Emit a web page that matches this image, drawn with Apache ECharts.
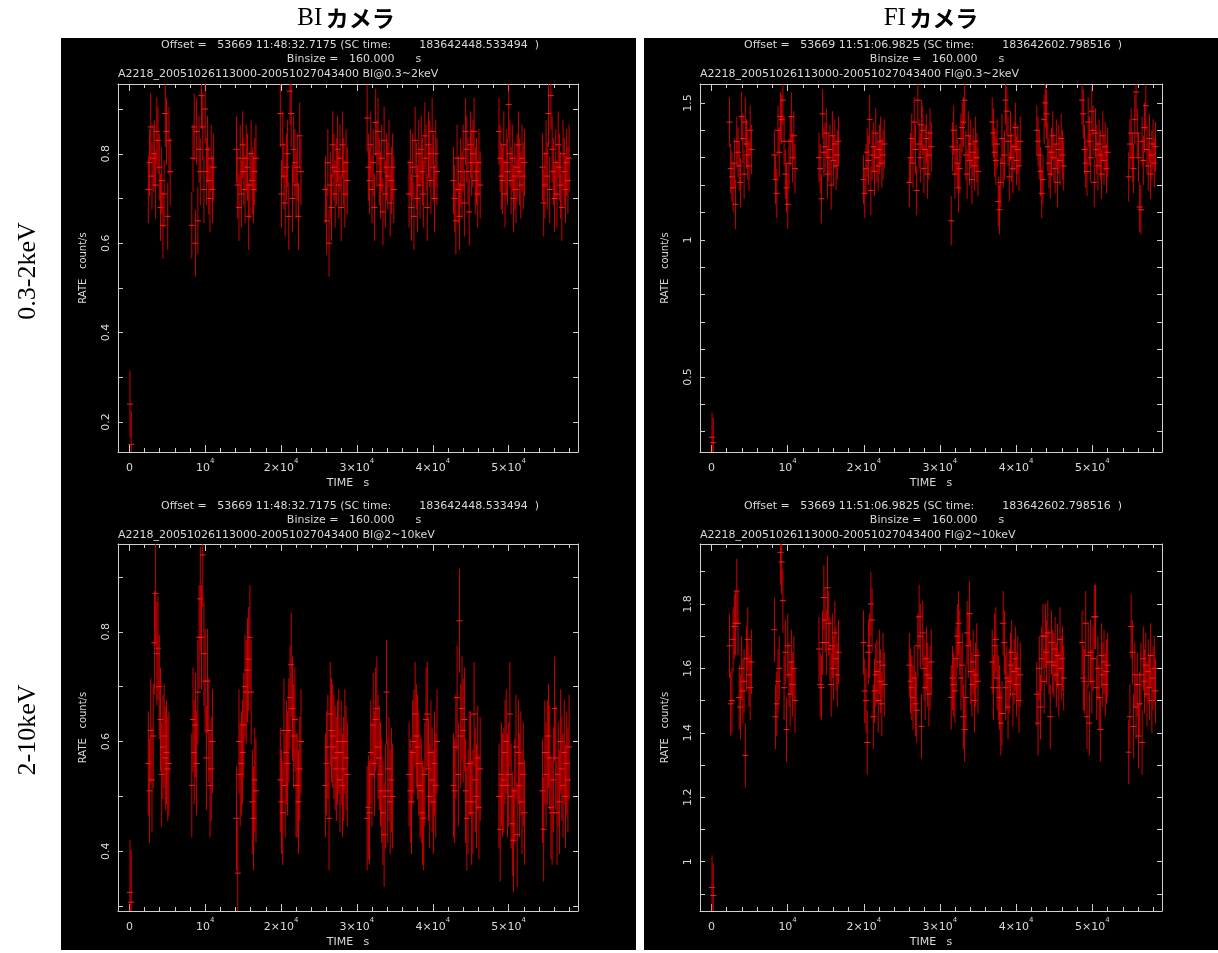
<!DOCTYPE html>
<html>
<head>
<meta charset="utf-8">
<script src="https://cdn.jsdelivr.net/npm/echarts@6/dist/echarts.min.js"></script>
<style>html,body{margin:0;padding:0;background:#fff;}#c{width:1218px;height:953px;}</style>
</head>
<body>
<div id="c"></div>
<script>
// ---------------- DATA ----------------
const BINSIZE = 160;
const BI_STARTS = [2420, 8150, 14050, 19820, 25770, 31270, 36800, 42650, 48650, 54380];
const FI_STARTS = [2290, 8180, 14040, 19890, 25900, 31400, 36780, 42640, 48580, 54700];
const FIRST_TIMES = [80, 240];

const BI_SOFT_FIRST = [0.24, 0.15];
const BI_SOFT = [
  [0.72,0.78,0.86,0.75,0.79,0.80,0.73,0.85,0.83,0.77,0.68,0.74,0.64,0.71,0.89,0.85,0.66,0.83,0.76],
  [0.64,0.79,0.86,0.60,0.85,0.65,0.81,0.76,0.93,0.86,0.72,0.90,0.76,0.81,0.74,0.70,0.79,0.72,0.77],
  [0.81,0.73,0.68,0.79,0.71,0.82,0.76,0.72,0.79,0.77,0.66,0.73,0.80,0.74,0.72,0.76,0.79],
  [0.89,0.71,0.82,0.75,0.69,0.77,0.80,0.66,0.94,0.89,0.70,0.81,0.78,0.73,0.77,0.66,0.84,0.76],
  [0.72,0.65,0.78,0.60,0.73,0.68,0.82,0.77,0.71,0.76,0.81,0.73,0.79,0.68,0.82,0.76,0.71,0.78,0.74],
  [0.88,0.77,0.74,0.82,0.72,0.78,0.68,0.87,0.80,0.85,0.76,0.73,0.79,0.67,0.83,0.71,0.77,0.75,0.80,0.69,0.74,0.77,0.72],
  [0.71,0.78,0.68,0.77,0.66,0.83,0.75,0.70,0.80,0.73,0.81,0.76,0.71,0.84,0.79,0.68,0.82,0.80,0.74,0.85,0.77,0.70,0.80,0.76],
  [0.74,0.70,0.65,0.79,0.72,0.66,0.76,0.73,0.79,0.69,0.85,0.81,0.76,0.67,0.82,0.78,0.80,0.85,0.74,0.76,0.71,0.78,0.73],
  [0.85,0.79,0.75,0.74,0.82,0.71,0.78,0.76,0.91,0.80,0.74,0.79,0.70,0.75,0.72,0.77,0.82,0.76,0.73,0.79,0.75,0.78],
  [0.77,0.69,0.73,0.80,0.75,0.89,0.72,0.93,0.81,0.76,0.70,0.78,0.71,0.82,0.77,0.73,0.68,0.80,0.76,0.72,0.78,0.74,0.79]
];
const BI_HARD_FIRST = [0.325, 0.307];
const BI_HARD = [
  [0.56,0.51,0.62,0.53,0.61,0.78,0.87,0.76,0.77,0.70,0.64,0.54,0.59,0.61,0.57,0.58,0.55,0.56],
  [0.52,0.64,0.58,0.63,0.56,0.69,0.79,0.86,0.79,0.94,0.76,0.71,0.57,0.71,0.62,0.52,0.55,0.60],
  [0.46,0.36,0.60,0.54,0.56,0.58,0.63,0.70,0.69,0.73,0.75,0.79,0.69,0.49,0.46,0.53,0.51],
  [0.53,0.49,0.47,0.62,0.52,0.58,0.56,0.62,0.68,0.74,0.66,0.61,0.64,0.52,0.52,0.49,0.55,0.60],
  [0.52,0.56,0.59,0.46,0.65,0.62,0.61,0.59,0.57,0.55,0.58,0.60,0.53,0.58,0.52,0.55,0.60,0.57,0.54],
  [0.46,0.48,0.47,0.58,0.54,0.63,0.56,0.64,0.66,0.59,0.57,0.54,0.51,0.47,0.43,0.50,0.69,0.51,0.55,0.49,0.53,0.50],
  [0.54,0.51,0.49,0.58,0.60,0.65,0.61,0.59,0.56,0.52,0.51,0.47,0.46,0.54,0.64,0.65,0.55,0.50,0.58,0.53,0.49,0.56,0.52,0.60],
  [0.52,0.51,0.59,0.68,0.54,0.82,0.61,0.66,0.62,0.64,0.51,0.46,0.49,0.56,0.56,0.47,0.49,0.65,0.53,0.50,0.57,0.48,0.55],
  [0.50,0.44,0.54,0.52,0.53,0.58,0.60,0.52,0.54,0.65,0.50,0.45,0.42,0.51,0.59,0.43,0.58,0.52,0.56,0.49,0.54,0.47],
  [0.51,0.44,0.58,0.54,0.58,0.61,0.57,0.48,0.47,0.53,0.66,0.57,0.47,0.54,0.49,0.60,0.55,0.52,0.58,0.50,0.56,0.53,0.59]
];
const FI_SOFT_FIRST = [0.28, 0.26];
const FI_SOFT = [
  [1.43,1.26,1.23,1.19,1.28,1.13,1.36,1.32,1.27,1.21,1.45,1.37,1.24,1.43,1.35,1.31,1.27,1.40,1.33],
  [1.31,1.22,1.17,1.40,1.32,1.45,1.44,1.51,1.36,1.24,1.19,1.13,1.28,1.36,1.45,1.30,1.38,1.26],
  [1.30,1.26,1.15,1.46,1.32,1.34,1.39,1.24,1.30,1.33,1.20,1.38,1.29,1.35,1.27,1.31,1.36],
  [1.22,1.17,1.26,1.32,1.29,1.44,1.18,1.31,1.34,1.25,1.39,1.30,1.27,1.33,1.36,1.28,1.31,1.35],
  [1.21,1.30,1.37,1.28,1.43,1.33,1.18,1.51,1.35,1.30,1.42,1.40,1.26,1.33,1.37,1.24,1.31,1.39,1.34],
  [1.07,1.34,1.40,1.24,1.33,1.28,1.19,1.26,1.37,1.41,1.43,1.51,1.31,1.24,1.38,1.29,1.35,1.22,1.32,1.27,1.36,1.30,1.25],
  [1.43,1.39,1.32,1.29,1.35,1.14,1.11,1.21,1.37,1.28,1.31,1.51,1.47,1.36,1.23,1.38,1.30,1.26,1.34,1.41,1.29,1.33,1.27,1.36],
  [1.40,1.36,1.31,1.25,1.17,1.22,1.44,1.50,1.46,1.34,1.28,1.24,1.32,1.38,1.30,1.26,1.35,1.21,1.33,1.29,1.37,1.31,1.27],
  [1.51,1.46,1.33,1.28,1.25,1.43,1.36,1.30,1.47,1.40,1.21,1.39,1.33,1.27,1.35,1.31,1.24,1.38,1.29,1.34,1.26,1.32],
  [1.23,1.35,1.39,1.30,1.26,1.44,1.54,1.39,1.30,1.12,1.11,1.36,1.29,1.41,1.49,1.33,1.27,1.37,1.24,1.31,1.35,1.28,1.34]
];
const FI_HARD_FIRST = [0.92, 0.895];
const FI_HARD = [
  [1.67,1.49,1.50,1.69,1.73,1.74,1.84,1.74,1.51,1.48,1.60,1.53,1.56,1.33,1.63,1.69,1.58,1.54,1.62],
  [1.72,1.45,1.49,1.56,1.60,1.96,1.93,1.81,1.54,1.65,1.41,1.67,1.58,1.52,1.62,1.55,1.60,1.50],
  [1.66,1.55,1.54,1.68,1.82,1.75,1.68,1.85,1.74,1.66,1.55,1.67,1.60,1.71,1.63,1.58,1.65],
  [1.68,1.53,1.50,1.37,1.65,1.67,1.80,1.75,1.45,1.53,1.58,1.59,1.50,1.62,1.56,1.49,1.61,1.55],
  [1.61,1.56,1.54,1.51,1.57,1.49,1.47,1.67,1.76,1.70,1.42,1.71,1.60,1.54,1.63,1.58,1.52,1.57,1.62],
  [1.51,1.57,1.55,1.53,1.63,1.70,1.74,1.68,1.57,1.61,1.45,1.41,1.51,1.71,1.67,1.77,1.59,1.55,1.62,1.50,1.58,1.64,1.56],
  [1.62,1.54,1.67,1.69,1.57,1.54,1.51,1.43,1.46,1.74,1.68,1.54,1.57,1.48,1.56,1.61,1.65,1.52,1.59,1.63,1.55,1.60,1.50,1.58],
  [1.52,1.43,1.60,1.48,1.63,1.70,1.56,1.70,1.65,1.71,1.62,1.45,1.68,1.62,1.61,1.66,1.58,1.64,1.55,1.69,1.60,1.63,1.57],
  [1.68,1.57,1.56,1.74,1.45,1.64,1.43,1.65,1.56,1.63,1.76,1.76,1.54,1.60,1.51,1.41,1.64,1.58,1.62,1.55,1.59,1.61],
  [1.34,1.45,1.73,1.65,1.42,1.58,1.48,1.55,1.39,1.49,1.58,1.37,1.63,1.56,1.61,1.52,1.59,1.54,1.64,1.50,1.57,1.60,1.53]
];
const ERR_BI_SOFT = 0.075, ERR_BI_HARD = 0.095, ERR_FI_SOFT = 0.09, ERR_FI_HARD = 0.10;

// axis ticks / labels
const X_TICKS = [0,2000,4000,6000,8000,10000,12000,14000,16000,18000,20000,22000,24000,26000,28000,30000,32000,34000,36000,38000,40000,42000,44000,46000,48000,50000,52000,54000,56000,58000];
const X_MAJOR = [0,10000,20000,30000,40000,50000];
const Y_BI_SOFT_TICKS = [0.2,0.3,0.4,0.5,0.6,0.7,0.8,0.9], Y_BI_SOFT_LABELS = [0.2,0.4,0.6,0.8];
const Y_BI_HARD_TICKS = [0.3,0.4,0.5,0.6,0.7,0.8,0.9], Y_BI_HARD_LABELS = [0.4,0.6,0.8];
const Y_FI_SOFT_TICKS = [0.3,0.4,0.5,0.6,0.7,0.8,0.9,1.0,1.1,1.2,1.3,1.4,1.5], Y_FI_SOFT_LABELS = [0.5,1,1.5];
const Y_FI_HARD_TICKS = [0.9,1.0,1.1,1.2,1.3,1.4,1.5,1.6,1.7,1.8,1.9], Y_FI_HARD_LABELS = [1,1.2,1.4,1.6,1.8];

// ---------------- CHART ----------------
function buildRows(starts, clusters, firstV, err) {
  const rows = [];
  FIRST_TIMES.forEach((t, i) => rows.push([t, firstV[i], err]));
  clusters.forEach((vals, c) => vals.forEach((v, i) => {
    if (v != null) rows.push([starts[c] + (i + 0.5) * BINSIZE, v, err]);
  }));
  return rows;
}
const panels = [
  {grid:{left:118, top:84, width:460, height:368}, rows: buildRows(BI_STARTS, BI_SOFT, BI_SOFT_FIRST, ERR_BI_SOFT), ymin:0.133, ymax:0.956, yt:Y_BI_SOFT_TICKS, yl:Y_BI_SOFT_LABELS},
  {grid:{left:118, top:544, width:460, height:367}, rows: buildRows(BI_STARTS, BI_HARD, BI_HARD_FIRST, ERR_BI_HARD), ymin:0.291, ymax:0.960, yt:Y_BI_HARD_TICKS, yl:Y_BI_HARD_LABELS},
  {grid:{left:700, top:84, width:462, height:368}, rows: buildRows(FI_STARTS, FI_SOFT, FI_SOFT_FIRST, ERR_FI_SOFT), ymin:0.226, ymax:1.569, yt:Y_FI_SOFT_TICKS, yl:Y_FI_SOFT_LABELS},
  {grid:{left:700, top:544, width:462, height:367}, rows: buildRows(FI_STARTS, FI_HARD, FI_HARD_FIRST, ERR_FI_HARD), ymin:0.847, ymax:1.986, yt:Y_FI_HARD_TICKS, yl:Y_FI_HARD_LABELS}
];

const FG = '#d8d8d8';
const FONT = 'DejaVu Sans';
const lineStyle = {color: '#cfcfcf', width: 1};

function xFmt(v) {
  if (v === 0) return '{b|0}';
  if (v === 10000) return '{b|10}{s|4}';
  return '{b|' + (v / 10000) + '×10}{s|4}';
}

const grid = [], xAxis = [], yAxis = [], series = [];
panels.forEach((p, g) => {
  grid.push(Object.assign({containLabel: false}, p.grid));
  const xBase = {type:'value', gridIndex:g, min:-1500, max:59150, splitLine:{show:false}};
  xAxis.push(Object.assign({}, xBase, {
    position:'bottom',
    axisLine:{show:true, onZero:false, lineStyle},
    axisTick:{show:true, inside:true, length:4, customValues:X_TICKS, lineStyle},
    axisLabel:{show:true, customValues:X_MAJOR, margin:6, color:FG, fontFamily:FONT, formatter:xFmt,
      rich:{b:{fontSize:11, fontFamily:FONT, color:FG, verticalAlign:'bottom', lineHeight:16},
            s:{fontSize:7, fontFamily:FONT, color:FG, verticalAlign:'top', lineHeight:16}}},
    name:'TIME   s', nameLocation:'middle', nameGap:26,
    nameTextStyle:{color:FG, fontFamily:FONT, fontSize:11}
  }));
  xAxis.push(Object.assign({}, xBase, {
    position:'top',
    axisLine:{show:true, onZero:false, lineStyle},
    axisTick:{show:true, inside:true, length:4, customValues:X_TICKS, lineStyle},
    axisLabel:{show:false}
  }));
  xAxis.push(Object.assign({}, xBase, {
    position:'bottom',
    axisLine:{show:false, onZero:false},
    axisTick:{show:true, inside:true, length:7, customValues:X_MAJOR, lineStyle},
    axisLabel:{show:false}
  }));
  xAxis.push(Object.assign({}, xBase, {
    position:'top',
    axisLine:{show:false, onZero:false},
    axisTick:{show:true, inside:true, length:7, customValues:X_MAJOR, lineStyle},
    axisLabel:{show:false}
  }));
  const yBase = {type:'value', gridIndex:g, min:p.ymin, max:p.ymax, splitLine:{show:false}};
  yAxis.push(Object.assign({}, yBase, {
    position:'left',
    axisLine:{show:true, onZero:false, lineStyle},
    axisTick:{show:true, inside:true, length:5, customValues:p.yt, lineStyle},
    axisLabel:{show:true, customValues:p.yl, rotate:90, margin:6, color:FG, fontFamily:FONT, fontSize:11},
    name:'RATE   count/s', nameLocation:'middle', nameGap:30,
    nameTextStyle:{color:FG, fontFamily:FONT, fontSize:10}
  }));
  yAxis.push(Object.assign({}, yBase, {
    position:'right',
    axisLine:{show:true, onZero:false, lineStyle},
    axisTick:{show:true, inside:true, length:5, customValues:p.yt, lineStyle},
    axisLabel:{show:false}
  }));
  series.push({
    type:'custom', xAxisIndex:g*4, yAxisIndex:g*2, clip:true,
    data:p.rows,
    renderItem:function(params, api) {
      const t = api.value(0), v = api.value(1), e = api.value(2);
      const c = api.coord([t, v]);
      const hi = api.coord([t, v + e]);
      const lo = api.coord([t, v - e]);
      return {type:'group', children:[
        {type:'line', shape:{x1:c[0], y1:hi[1], x2:c[0], y2:lo[1]}, style:{stroke:'rgba(255,0,0,0.8)', lineWidth:1}},
        {type:'line', shape:{x1:c[0]-3, y1:c[1], x2:c[0]+3, y2:c[1]}, style:{stroke:'#ff1a1a', lineWidth:1}}
      ]};
    }
  });
});

function txt(x, y, s, align) {
  return {type:'text', x:x, y:y, silent:true,
    style:{text:s, fill:FG, font:'11px "DejaVu Sans"', textAlign:align, textVerticalAlign:'middle'}};
}
const headers = [
  {cx:350, top:45, off:'Offset =   53669 11:48:32.7175 (SC time:        183642448.533494  )', name:'A2218_20051026113000-20051027043400 BI@0.3~2keV', left:118},
  {cx:350, top:506, off:'Offset =   53669 11:48:32.7175 (SC time:        183642448.533494  )', name:'A2218_20051026113000-20051027043400 BI@2~10keV', left:118},
  {cx:933, top:45, off:'Offset =   53669 11:51:06.9825 (SC time:        183642602.798516  )', name:'A2218_20051026113000-20051027043400 FI@0.3~2keV', left:700},
  {cx:933, top:506, off:'Offset =   53669 11:51:06.9825 (SC time:        183642602.798516  )', name:'A2218_20051026113000-20051027043400 FI@2~10keV', left:700}
];
const graphic = [
  {type:'rect', shape:{x:61, y:38, width:575, height:912}, style:{fill:'#000'}, z:-100, silent:true},
  {type:'rect', shape:{x:644, y:38, width:574, height:912}, style:{fill:'#000'}, z:-100, silent:true}
];
headers.forEach(h => {
  graphic.push(txt(h.cx, h.top, h.off, 'center'));
  graphic.push(txt(h.cx + 4, h.top + 14, 'Binsize =   160.000      s', 'center'));
  graphic.push(txt(h.left, h.top + 29, h.name, 'left'));
});
function colHead(cx, a) {
  return {type:'text', x:cx, y:18, silent:true, style:{
    text:'{a|' + a + '} {b|カメラ}', textAlign:'center', textVerticalAlign:'middle',
    rich:{a:{fontFamily:'Liberation Serif', fontSize:25, fill:'#000'},
          b:{fontFamily:'Noto Sans CJK JP', fontWeight:'bold', fontSize:23, fill:'#000'}}}};
}
graphic.push(colHead(346, 'BI'));
graphic.push(colHead(931, 'FI'));
function rowHead(cy, s) {
  return {type:'text', x:28, y:cy, rotation:Math.PI/2, silent:true, style:{
    text:s, fill:'#000', font:'26px "Liberation Serif"', textAlign:'center', textVerticalAlign:'middle'}};
}
graphic.push(rowHead(271, '0.3-2keV'));
graphic.push(rowHead(730, '2-10keV'));

const chart = echarts.init(document.getElementById('c'), null, {renderer:'canvas'});
chart.setOption({
  backgroundColor:'#ffffff',
  animation:false,
  grid, xAxis, yAxis, series, graphic
});
</script>
</body>
</html>
